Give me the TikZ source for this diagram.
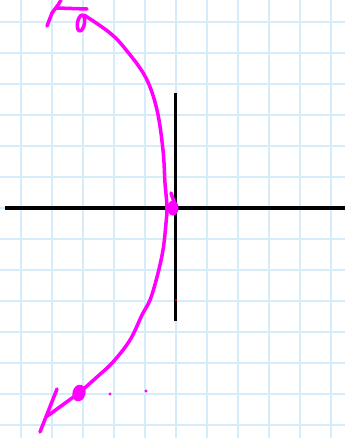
\documentclass[tikz,border=0pt]{standalone}
\usetikzlibrary{calc}
\definecolor{gridblue}{RGB}{214,236,250}
\definecolor{inkmagenta}{RGB}{255,0,255}
\tikzset{
    sketch/.style      = {x=0.03cm, y=-0.03cm},
    paper grid/.style  = {draw=gridblue, line width=1.2pt},
    axis/.style        = {draw=black, line width=3pt},
    ink/.style         = {draw=inkmagenta, line width=3pt,
                          line cap=round, line join=round},
    blob/.style        = {fill=inkmagenta},
    speck/.style       = {fill=inkmagenta}
}
\begin{document}
\begin{tikzpicture}[sketch]
\useasboundingbox (0,0) rectangle (345,438);

% ================= Squared paper =================
\foreach \gx in {0,...,10}
    \draw[paper grid] ({21+31*\gx},0) -- ({21+31*\gx},438);
\foreach \gy in {0,...,13}
    \draw[paper grid] (0,{22+31*\gy}) -- (345,{22+31*\gy});

% ================= Axes =================
\coordinate (axis west) at (5,208);
\coordinate (axis east) at (345,208);
\coordinate (axis north) at (175.5,93);
\coordinate (axis south) at (175.5,321);
\draw[axis] (axis west) -- (axis east);
\draw[axis] (axis north) -- (axis south);

% ================= Hand-drawn curve =================
\coordinate (top end) at (84,15);
\coordinate (bottom blob) at (79,393);
\draw[ink] plot[smooth, tension=0.6] coordinates {
    (84,15) (110,33) (127,51) (146,78) (157,110) (163,150)
    (165,183) (167,207) (166,223) (163,250) (157,277) (150,300)
    (142,315) (130,340) (113,362) (97,377) (bottom blob)};

% ================= Upper arrowhead and loop =================
\draw[ink] (47,26) -- (52,13) -- (58,5) -- (61,0);
\draw[ink] (57,8) -- (87,9);
\draw[ink, rotate around={-10:(81,23)}] (81,23) ellipse [x radius=3.5, y radius=8];

% ================= Lower arrowhead and blob =================
\draw[ink] (40,432) -- (57,389) -- (46,417) -- (bottom blob);
\fill[blob, rotate around={-15:(bottom blob)}] (bottom blob) ellipse [x radius=6.5, y radius=8.5];

% ================= Mark at the origin =================
\fill[blob] (173,208) ellipse [x radius=5.5, y radius=7.5];
\draw[ink] (171,193) -- (174,202);

% ================= Stray specks =================
\fill[speck] (110,394) circle [radius=1.7];
\fill[speck] (146,391) circle [radius=1.7];
\fill[red] (176,300) circle [radius=1];

\end{tikzpicture}
\end{document}
